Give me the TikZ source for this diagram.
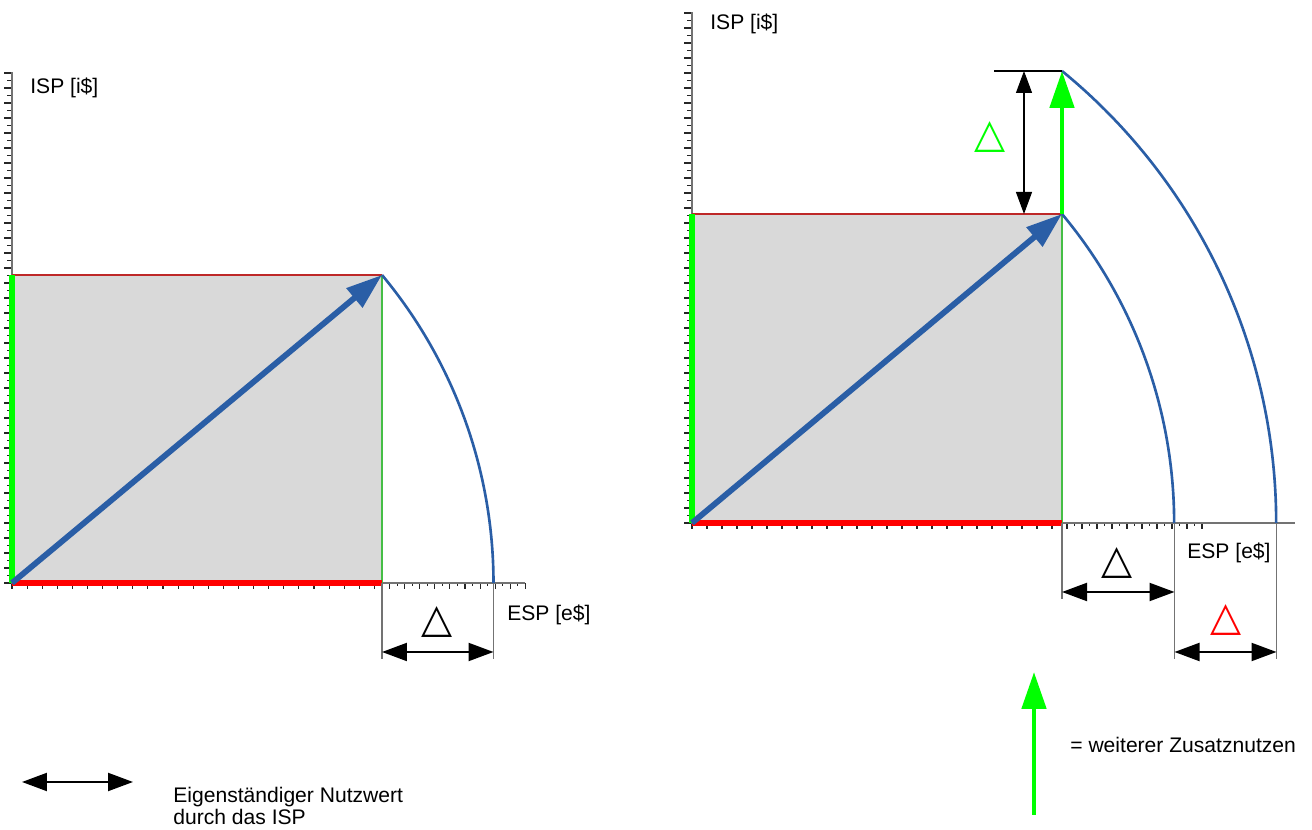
\documentclass[tikz,border=0pt]{standalone}
\usepackage{fontspec}
\setmainfont{Liberation Sans}
\newfontfamily\symfont{DejaVu Sans}
\usetikzlibrary{arrows.meta,positioning,calc}
\definecolor{vecblue}{RGB}{42,94,166}
\definecolor{gaingreen}{RGB}{0,255,0}
\definecolor{edgegreen}{RGB}{70,190,70}
\definecolor{edgered}{RGB}{190,40,40}
\definecolor{boxgray}{RGB}{217,217,217}

\begin{document}
\begin{tikzpicture}[>=Stealth,x=0.02cm,y=0.02cm,font=\fontsize{12}{12}\selectfont]
\tikzstyle{axis}=[black!55,line width=0.7pt]
\tikzstyle{tick}=[black!85,line width=0.6pt]
\tikzstyle{dim}=[black!55,line width=0.6pt]
\tikzstyle{span}=[{Triangle[length=0.5cm,width=0.36cm]}-{Triangle[length=0.5cm,width=0.36cm]},line width=1.2pt]
\tikzstyle{spanv}=[{Triangle[length=0.44cm,width=0.32cm]}-{Triangle[length=0.44cm,width=0.32cm]},line width=0.6pt]
\tikzstyle{gain}=[-{Triangle[length=0.74cm,width=0.48cm]},gaingreen,line width=2.8pt]
\tikzstyle{vec}=[-{Triangle[length=0.72cm,width=0.48cm]},vecblue,line width=3.3pt]
\tikzstyle{circ}=[vecblue,line width=1.5pt]
\tikzstyle{delta}=[font=\symfont\fontsize{23}{23}\selectfont,inner sep=0pt]
\tikzstyle{lbl}=[inner sep=0pt,anchor=west]
\useasboundingbox (0,0) rectangle (1312,830);

% left chart
\coordinate (o1) at (12,247);
\coordinate (t1) at (12,555);
\coordinate (a1) at (382,555);
\coordinate (b1) at (382,247);
\coordinate (e1) at (493.5,247);
\fill[boxgray] (o1) rectangle (a1);
\foreach \k in {0,2,...,68} \draw[tick] ($(o1)+(0,7.5*\k)$) -- ++(-8,0);
\foreach \k in {1,3,...,67} \draw[tick] ($(o1)+(0,7.5*\k)$) -- ++(-5,0);
\foreach \k in {0,2,...,68} \draw[tick] ($(o1)+(7.55*\k,0)$) -- ++(0,-6);
\foreach \k in {1,3,...,67} \draw[tick] ($(o1)+(7.55*\k,0)$) -- ++(0,-3.5);
\draw[axis] (12,758) -- (o1) -- (525,247);
\draw[edgered,line width=0.9pt] (t1) -- (a1);
\draw[edgegreen,line width=0.9pt] (b1) -- (a1);
\draw[red,line width=2.9pt] (o1) -- (b1);
\draw[gaingreen,line width=2.9pt] (o1) -- (t1);
\draw[vec] (o1) -- (a1);
\draw[circ] (a1) arc[start angle=39.78,end angle=0,radius=481.5];
\node[lbl] (isp1) at (30,742) {ISP [i\$]};
\node[lbl] (esp1) at (507,215) {ESP [e\$]};
\coordinate (f1) at (382,171);
\coordinate (g1) at (493.5,171);
\draw[dim] (b1) -- (f1);
\draw[dim] (e1) -- (g1);
\coordinate (p1) at (382,178);
\coordinate (q1) at (493.5,178);
\draw[span] (p1) -- (q1);
\node[delta] (d1) at (437,208) {△};

% right chart
\coordinate (o2) at (692,307);
\coordinate (t2) at (692,616);
\coordinate (a2) at (1062,616);
\coordinate (b2) at (1062,307);
\coordinate (h2) at (1062,759);
\coordinate (e2) at (1174.5,307);
\coordinate (k2) at (1276.5,307);
\fill[boxgray] (o2) rectangle (a2);
\foreach \k in {0,2,...,68} \draw[tick] ($(o2)+(0,7.5*\k)$) -- ++(-8,0);
\foreach \k in {1,3,...,67} \draw[tick] ($(o2)+(0,7.5*\k)$) -- ++(-5,0);
\foreach \k in {0,2,...,68} \draw[tick] ($(o2)+(7.5*\k,0)$) -- ++(0,-6);
\foreach \k in {1,3,...,67} \draw[tick] ($(o2)+(7.5*\k,0)$) -- ++(0,-3.5);
\draw[axis] (692,818) -- (o2) -- (1295,307);
\draw[edgered,line width=0.9pt] (t2) -- (a2);
\draw[edgegreen,line width=0.9pt] (b2) -- (a2);
\draw[red,line width=2.9pt] (o2) -- (b2);
\draw[gaingreen,line width=2.9pt] (o2) -- (t2);
\draw[vec] (o2) -- (a2);
\draw[circ] (a2) arc[start angle=39.87,end angle=0,radius=482.3];
\draw[circ] (h2) arc[start angle=50.7,end angle=0,radius=584.1];
\draw[gain] (a2) -- (h2);
\node[lbl] (isp2) at (710,806) {ISP [i\$]};
\node[lbl] (esp2) at (1187,277) {ESP [e\$]};
\coordinate (c2) at (994,759);
\draw[black,line width=0.6pt] (c2) -- (h2);
\coordinate (u2) at (1024,759);
\coordinate (v2) at (1024,616);
\draw[spanv] (u2) -- (v2);
\node[delta,text=gaingreen] (d2) at (990,693) {△};
\coordinate (f2) at (1062,231);
\coordinate (g2) at (1174.5,171);
\coordinate (m2) at (1276.5,171);
\draw[dim] (b2) -- (f2);
\draw[dim] (e2) -- (g2);
\draw[dim] (k2) -- (m2);
\coordinate (p2) at (1062,238);
\coordinate (q2) at (1174.5,238);
\draw[span] (p2) -- (q2);
\node[delta] (d3) at (1117,267) {△};
\coordinate (r2) at (1174.5,178);
\coordinate (s2) at (1276.5,178);
\draw[span] (r2) -- (s2);
\node[delta,text=red] (d4) at (1226,210) {△};

% legend
\coordinate (la) at (22,48);
\coordinate (lb) at (133,48);
\draw[span] (la) -- (lb);
\node[lbl,align=left] (own) at (173,24) {Eigenständiger Nutzwert\\durch das ISP};
\coordinate (ga) at (1034,15);
\coordinate (gb) at (1034,158);
\draw[gain] (ga) -- (gb);
\node[lbl] (extra) at (1070,85) {= weiterer Zusatznutzen};
\end{tikzpicture}
\end{document}
